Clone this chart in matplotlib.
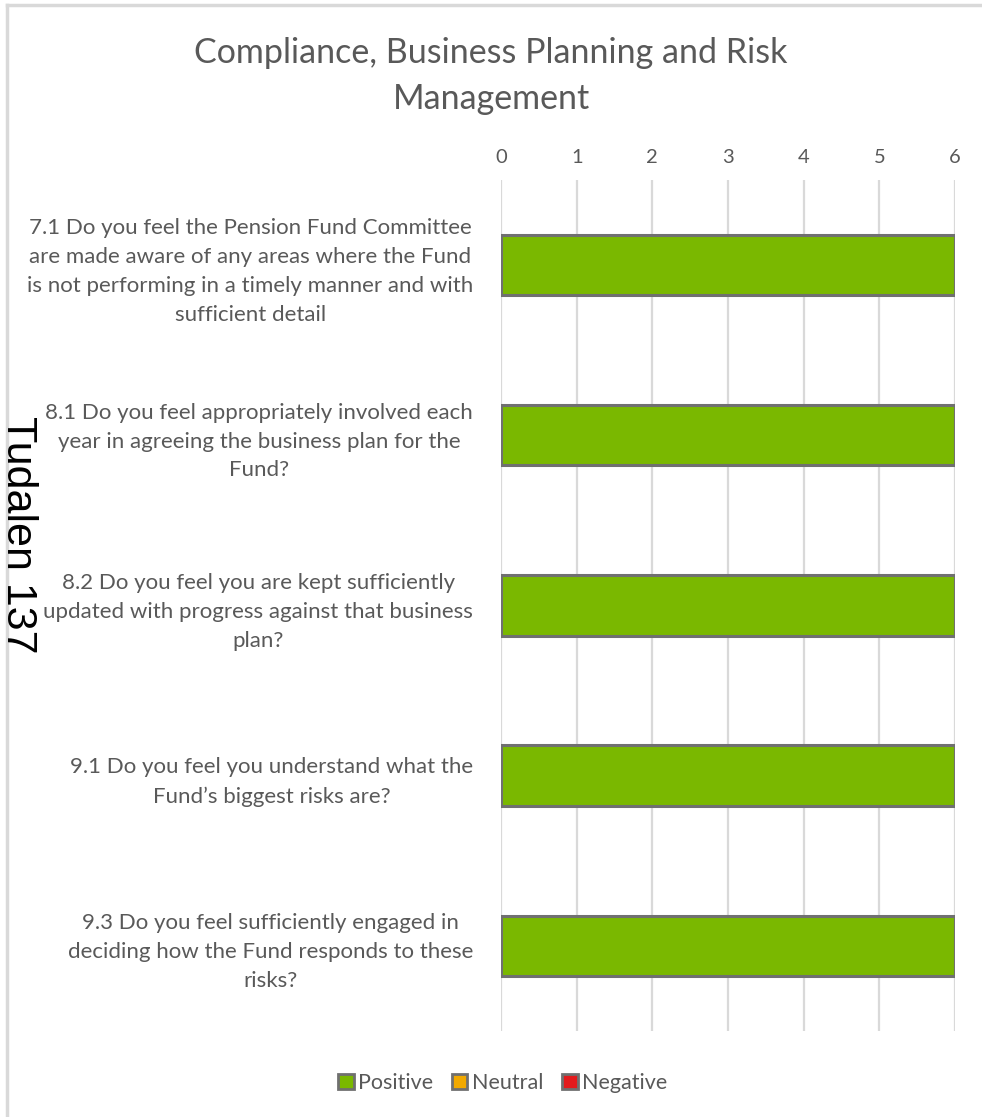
import numpy as np
import matplotlib.pyplot as plt
from matplotlib.lines import Line2D
from matplotlib.patches import Patch

# Survey results per question (number of responses)
questions = [
    "7.1 Do you feel the Pension Fund Committee\nare made aware of any areas where the Fund\nis not performing in a timely manner and with\nsufficient detail",
    "8.1 Do you feel appropriately involved each\nyear in agreeing the business plan for the\nFund?",
    "8.2 Do you feel you are kept sufficiently\nupdated with progress against that business\nplan?",
    "9.1 Do you feel you understand what the\nFund\u2019s biggest risks are?",
    "9.3 Do you feel sufficiently engaged in\ndeciding how the Fund responds to these\nrisks?",
]
positive = [6, 6, 6, 6, 6]
neutral = [0, 0, 0, 0, 0]
negative = [0, 0, 0, 0, 0]
x_ticks = [0, 1, 2, 3, 4, 5, 6]

series = ["Positive", "Neutral", "Negative"]
colors = ["#7AB800", "#F2A900", "#E31A1C"]
text_grey = "#595959"

plt.rcParams['font.family'] = ['Lato', 'DejaVu Sans']

fig = plt.figure(figsize=(9.82, 11.17), dpi=100)
ax = fig.add_axes([0.5102, 0.0770, 0.4623, 0.7619])

y = np.arange(len(questions))
left = np.zeros(len(questions))
for name, vals, c in zip(series, [positive, neutral, negative], colors):
    vals = np.array(vals, dtype=float)
    ax.barh(y, vals, left=left, height=0.355, color=c, edgecolor="#707070",
            linewidth=2.2, label=name, zorder=3)
    left += vals

ax.set_ylim(len(questions) - 0.5, -0.5)
ax.set_xlim(0, 6)
ax.set_xticks(x_ticks)
ax.xaxis.tick_top()
ax.tick_params(axis='x', length=0, pad=10, labelsize=14.5, labelcolor=text_grey)
ax.set_yticks(y)
ax.set_yticklabels(questions, fontsize=16, color=text_grey)
ax.tick_params(axis='y', length=0, pad=20)
for t in ax.get_yticklabels():
    t.set_multialignment('center')
    t.set_linespacing(1.55)

ax.grid(axis='x', color="#D9D9D9", linewidth=1.6, zorder=0)
ax.grid(axis='y', visible=False)
for s in ax.spines.values():
    s.set_visible(False)

fig.suptitle("Compliance, Business Planning and Risk\nManagement", y=0.967,
             fontsize=24.5, color=text_grey, linespacing=1.55)

# legend with grey-edged square swatches
handles = [Patch(facecolor=c, edgecolor="#707070", linewidth=2, label=n)
           for n, c in zip(series, colors)]
fig.legend(handles=handles, loc='center', bbox_to_anchor=(0.512, 0.030), ncol=3,
           frameon=False, fontsize=15.5, labelcolor=text_grey, handlelength=0.7,
           handleheight=0.7, handletextpad=0.2, columnspacing=0.9)

# chart frame (top and left edges)
fig.add_artist(Line2D([7 / 982, 1], [1 - 5 / 1117, 1 - 5 / 1117], transform=fig.transFigure,
                      color="#D9D9D9", linewidth=2.5))
fig.add_artist(Line2D([7 / 982, 7 / 982], [0, 1 - 5 / 1117], transform=fig.transFigure,
                      color="#D9D9D9", linewidth=2.5))

# page marker
fig.text(38 / 982, 1 - 535 / 1117, "Tudalen 137", rotation=-90, ha='right', va='center',
         fontsize=31, color="black", family=['Liberation Sans', 'DejaVu Sans'])

fig.savefig("out.png", dpi=100)
